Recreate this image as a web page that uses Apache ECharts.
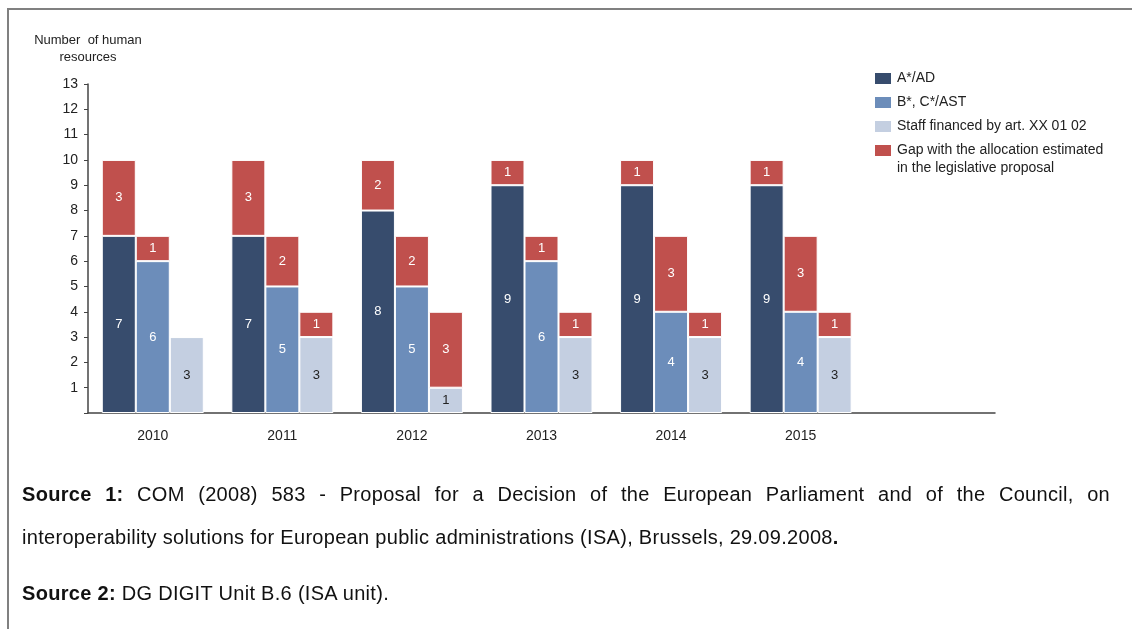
<!DOCTYPE html>
<html>
<head>
<meta charset="utf-8">
<script src="https://cdn.jsdelivr.net/npm/echarts@6/dist/echarts.min.js"></script>
<style>
  html, body { margin: 0; padding: 0; background: #fff; }
  #wrap { position: relative; width: 1132px; height: 629px; overflow: hidden; }
  #frameTop { position: absolute; left: 7px; top: 8px; width: 1130px; height: 2px; background: #808080; }
  #frameLeft { position: absolute; left: 7px; top: 8px; width: 2px; height: 640px; background: #808080; }
  #chart { position: absolute; left: 0; top: 0; width: 1132px; height: 629px; }
  .src { position: absolute; left: 22px; width: 1088px; font-family: "Liberation Sans", Arial, sans-serif;
         font-size: 20px; letter-spacing: 0.3px; line-height: 43px; color: #111; margin: 0; white-space: nowrap; }
  .just { text-align: justify; text-align-last: justify; white-space: normal; }
</style>
</head>
<body>
<div id="wrap">
  <div id="chart"></div>
  <div id="frameTop"></div>
  <div id="frameLeft"></div>
  <p class="src just" style="top:473px;"><b>Source 1:</b> COM (2008) 583 - Proposal for a Decision of the European Parliament and of the Council, on</p>
  <p class="src" style="top:516px;">interoperability solutions for European public administrations (ISA), Brussels, 29.09.2008<b>.</b></p>
  <p class="src" style="top:572px;"><b>Source 2:</b> DG DIGIT Unit B.6 (ISA unit).</p>
</div>
<script>
const categories = ['2010', '2011', '2012', '2013', '2014', '2015', ''];
const adValues      = [7, 7, 8, 9, 9, 9, null];
const adGap         = [3, 3, 2, 1, 1, 1, null];
const astValues     = [6, 5, 5, 6, 4, 4, null];
const astGap        = [1, 2, 2, 1, 3, 3, null];
const staffValues   = [3, 3, 1, 3, 3, 3, null];
const staffGap      = [0, 1, 3, 1, 1, 1, null];
const yTicks = [1, 2, 3, 4, 5, 6, 7, 8, 9, 10, 11, 12, 13];

const names = {
  ad: 'A*/AD',
  ast: 'B*, C*/AST',
  staff: 'Staff financed by art. XX 01 02',
  gap: 'Gap with the allocation estimated\nin the legislative proposal'
};
const colors = { ad: '#374C6D', ast: '#6C8DBA', staff: '#C4CFE1', gap: '#C0504D' };
const FONT = '"Liberation Sans", Arial, sans-serif';

function barSeries(name, data, stack, color, labelColor) {
  return {
    type: 'bar', name: name, stack: stack, data: data,
    barWidth: 34, barGap: '0%',
    itemStyle: { color: color, borderColor: '#ffffff', borderWidth: 1 },
    label: {
      show: true, position: 'inside', color: labelColor, fontSize: 13, fontFamily: FONT,
      formatter: p => (p.value ? String(p.value) : '')
    },
    emphasis: { disabled: true }
  };
}

const gapLines = names.gap.split('\n');

const chart = echarts.init(document.getElementById('chart'), null, { renderer: 'canvas' });
chart.setOption({
  animation: false,
  backgroundColor: 'transparent',
  textStyle: { fontFamily: FONT },
  grid: { left: 88, right: 137, top: 84, bottom: 216, containLabel: false },
  legend: {
    orient: 'vertical', left: 873, top: 70, padding: 0, itemWidth: 18, itemHeight: 13, itemGap: 7,
    icon: 'rect',
    textStyle: { fontSize: 14, color: '#222', fontFamily: FONT, lineHeight: 17 },
    formatter: n => n.split('\n')[0],
    data: [names.ad, names.ast, names.staff, names.gap]
  },
  graphic: [{
    type: 'text', left: 897, top: 161, silent: true,
    style: { text: gapLines[1], fill: '#222', font: '14px ' + FONT }
  }],
  xAxis: {
    type: 'category', data: categories,
    axisLine: { lineStyle: { color: '#444', width: 1.5 } },
    axisTick: { show: false },
    axisLabel: { color: '#222', fontSize: 14, margin: 16, fontFamily: FONT }
  },
  yAxis: {
    type: 'value', min: 0, max: 13, interval: 1,
    name: 'Number  of human\nresources', nameLocation: 'end', nameGap: 18,
    nameTextStyle: { color: '#222', fontSize: 13, align: 'center', lineHeight: 17, fontFamily: FONT },
    axisLine: { show: true, lineStyle: { color: '#444', width: 1.5 } },
    axisTick: { show: true, length: 4, lineStyle: { color: '#444' } },
    splitLine: { show: false },
    axisLabel: {
      color: '#222', fontSize: 14, margin: 10, fontFamily: FONT,
      formatter: v => (yTicks.indexOf(v) >= 0 ? String(v) : '')
    }
  },
  series: [
    barSeries(names.ad, adValues, 'a', colors.ad, '#ffffff'),
    barSeries(names.gap, adGap, 'a', colors.gap, '#ffffff'),
    barSeries(names.ast, astValues, 'b', colors.ast, '#ffffff'),
    barSeries(names.gap, astGap, 'b', colors.gap, '#ffffff'),
    barSeries(names.staff, staffValues, 'c', colors.staff, '#222222'),
    barSeries(names.gap, staffGap, 'c', colors.gap, '#ffffff')
  ]
});
</script>
</body>
</html>
